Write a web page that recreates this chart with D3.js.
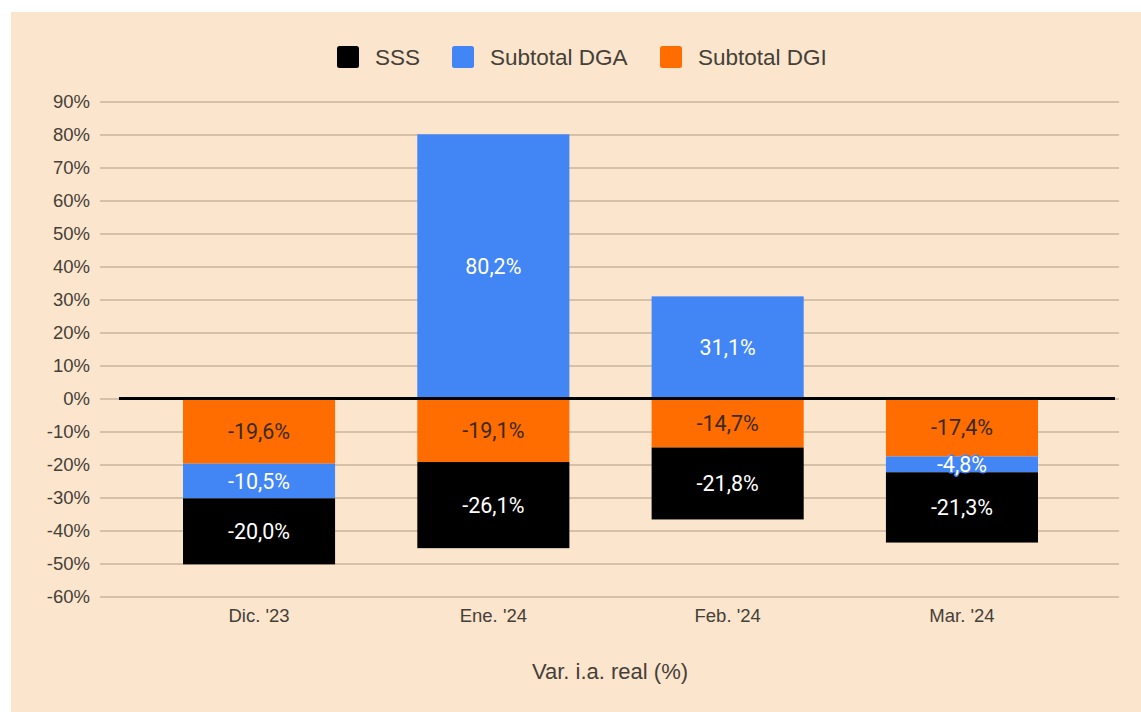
<!DOCTYPE html>
<html><head><meta charset="utf-8">
<script src="https://cdn.jsdelivr.net/npm/d3@7"></script>
<style>html,body{margin:0;padding:0;background:#fff;}</style>
</head><body>
<svg id="c" width="1141" height="712"></svg>
<script>
const categories = ["Dic. '23", "Ene. '24", "Feb. '24", "Mar. '24"];
const seriesNames = ["SSS", "Subtotal DGA", "Subtotal DGI"];
const sss = [-20.0, -26.1, -21.8, -21.3];
const dga = [-10.5, 80.2, 31.1, -4.8];
const dgi = [-19.6, -19.1, -14.7, -17.4];
const yTicks = [90, 80, 70, 60, 50, 40, 30, 20, 10, 0, -10, -20, -30, -40, -50, -60];
const axisTitle = "Var. i.a. real (%)";

const colors = {"SSS": "#000000", "Subtotal DGA": "#4285f4", "Subtotal DGI": "#ff6d01"};
const labelColors = {"SSS": "#ffffff", "Subtotal DGA": "#ffffff", "Subtotal DGI": "#3a2a1c"};

const rows = categories.map((c, i) => ({cat: c, "SSS": sss[i], "Subtotal DGA": dga[i], "Subtotal DGI": dgi[i]}));
// stack order: DGI closest to zero, then DGA, then SSS
const stackKeys = ["Subtotal DGI", "Subtotal DGA", "SSS"];
const stacked = d3.stack().keys(stackKeys).offset(d3.stackOffsetDiverging)(rows);

const svg = d3.select("#c");
svg.append("rect").attr("x", 11).attr("y", 12).attr("width", 1130).attr("height", 700).attr("fill", "#fce5cd");

const y = d3.scaleLinear().domain([-60, 90]).range([597, 102]);
const x = d3.scaleBand().domain(categories).range([142, 1079]).paddingInner(0.351).paddingOuter(0.175);

const axisFont = "'Liberation Sans', Arial, sans-serif";
const textCol = "#444038";

// gridlines
svg.append("g").selectAll("line").data(yTicks).join("line")
  .attr("x1", 100).attr("x2", 1119)
  .attr("y1", d => y(d)).attr("y2", d => y(d))
  .attr("stroke", "#c8b49e").attr("stroke-width", 1.5);
const gAxis = svg.append("g").attr("transform", "translate(100,0)").call(d3.axisLeft(y).tickValues(yTicks).tickFormat(d => d + "%").tickSize(0).tickPadding(10));
gAxis.select(".domain").remove();
gAxis.selectAll("text").attr("font-family", axisFont).attr("font-size", 18.5).attr("fill", textCol);

// bars
const layer = svg.append("g").selectAll("g").data(stacked).join("g").attr("fill", d => colors[d.key]);
layer.selectAll("rect").data(d => d.map(v => ({k: d.key, v}))).join("rect")
  .attr("x", d => x(d.v.data.cat))
  .attr("width", x.bandwidth())
  .attr("y", d => y(Math.max(d.v[0], d.v[1])))
  .attr("height", d => Math.abs(y(d.v[0]) - y(d.v[1])));

// zero line
svg.append("line").attr("x1", 119).attr("x2", 1115).attr("y1", y(0) - 0.5).attr("y2", y(0) - 0.5)
  .attr("stroke", "#000").attr("stroke-width", 3);

// data labels
const fmt = v => v.toFixed(1).replace(".", ",") + "%";
const lbl = svg.append("g");
stacked.forEach(s => {
  s.forEach(v => {
    const val = v.data[s.key];
    lbl.append("text")
      .attr("x", x(v.data.cat) + x.bandwidth() / 2)
      .attr("y", (y(v[0]) + y(v[1])) / 2)
      .attr("dy", "0.36em")
      .attr("text-anchor", "middle")
      .attr("font-family", "Roboto, sans-serif")
      .attr("font-size", 21.5)
      .attr("fill", labelColors[s.key])
      .attr("stroke", colors[s.key])
      .attr("stroke-width", 3)
      .attr("paint-order", "stroke")
      .attr("stroke-linejoin", "round")
      .text(fmt(val));
  });
});

// x axis labels
const gX = svg.append("g").attr("transform", "translate(0,597)").call(d3.axisBottom(x).tickSize(0).tickPadding(12));
gX.select(".domain").remove();
gX.selectAll("text").attr("font-family", axisFont).attr("font-size", 18.5).attr("fill", textCol);

// axis title
svg.append("text").attr("x", 610).attr("y", 679).attr("text-anchor", "middle")
  .attr("font-family", axisFont).attr("font-size", 22).attr("fill", textCol).text(axisTitle);

// legend
const legendX = [337, 452, 660];
const lg = svg.append("g").selectAll("g").data(seriesNames).join("g")
  .attr("transform", (d, i) => `translate(${legendX[i]},46)`);
lg.append("rect").attr("width", 22).attr("height", 22).attr("rx", 2.5).attr("fill", d => colors[d]);
lg.append("text").attr("x", 38).attr("y", 11).attr("dy", "0.36em")
  .attr("font-family", axisFont).attr("font-size", 22.5).attr("fill", textCol).text(d => d);
</script>
</body></html>
